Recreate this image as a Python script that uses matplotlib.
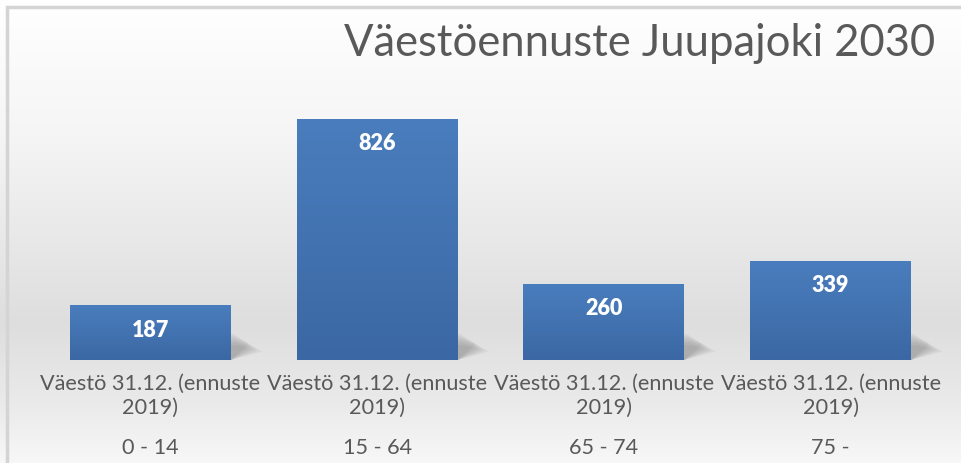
import numpy as np
import matplotlib.pyplot as plt
from matplotlib.patches import Rectangle, Polygon
from matplotlib.colors import LinearSegmentedColormap

title = "Väestöennuste Juupajoki 2030"
series_label = "Väestö 31.12. (ennuste\n2019)"
age_groups = ["0 - 14", "15 - 64", "65 - 74", "75 -"]
values = [187, 826, 260, 339]

W, H = 962, 464
fig = plt.figure(figsize=(W / 100, H / 100), dpi=100)
plt.rcParams['font.family'] = ['Lato', 'DejaVu Sans']

# background gradient (white top -> grey band -> lighter bottom)
bg = fig.add_axes([0, 0, 1, 1], zorder=0)
yy = np.linspace(0, 1, 300)  # 0 = bottom
shade = np.interp(yy, [0, 0.12, 0.3, 0.7, 1.0], [0.97, 0.92, 0.87, 0.96, 1.0])
bg.imshow(np.dstack([shade] * 3).reshape(-1, 1, 3), aspect='auto',
          extent=[0, 1, 0, 1], origin='lower')
bg.set_xlim(0, 1)
bg.set_ylim(0, 1)
bg.axis('off')
bg.add_patch(Rectangle((7 / W, -0.1), 1.2, 1 - 8 / H + 0.1, fill=False,
                       ec='#d4d4d4', lw=2.5))

# plot axes: x from 37 to 944 px, baseline at y=361 px
ax = fig.add_axes([37 / W, (H - 361) / H, (944 - 37) / W, 292 / H], zorder=1)
ax.patch.set_alpha(0)
x = np.arange(len(values))
bw = 0.71

cmap = LinearSegmentedColormap.from_list('bar', ['#3b68a4', '#4a7dbd'])
grad = np.linspace(0, 1, 100).reshape(-1, 1)
for xi, v in zip(x, values):
    # soft shadow towards lower right
    for k in range(6):
        s = 0.03 + k * 0.012
        poly = Polygon([(xi - bw / 2 + 0.15, 0), (xi + bw / 2, 0),
                        (xi + bw / 2 + s + 0.05, 55 - k * 5),
                        (xi + bw / 2 + s * 0.3, 90 - k * 8),
                        (xi + bw / 2, 90 - k * 8)],
                       closed=True, fc='#606060', ec='none', alpha=0.08, zorder=1)
        ax.add_patch(poly)
    r = Rectangle((xi - bw / 2, 0), bw, v, fc='#4279b8', ec='none', zorder=2)
    ax.add_patch(r)
    im = ax.imshow(grad, cmap=cmap, aspect='auto', origin='lower',
                   extent=[xi - bw / 2, xi + bw / 2, 0, v], zorder=3)
    im.set_clip_path(r)
    ax.annotate(str(v), (xi, v), xytext=(0, -17), textcoords='offset points',
                ha='center', va='center', color='white', fontsize=15.5,
                fontweight='heavy', zorder=4)

ax.set_xlim(-0.5, len(values) - 0.5)
ax.set_ylim(0, 1000)
ax.set_xticks(x)
ax.set_xticklabels([series_label] * len(values), fontsize=15.6, color='#595959',
                   linespacing=1.3)
ax.tick_params(axis='x', length=0, pad=9)
ax.set_yticks([])
for sp in ax.spines.values():
    sp.set_visible(False)
for xi, g in zip(x, age_groups):
    ax.text(xi, -87 / 292, g, transform=ax.get_xaxis_transform(), ha='center',
            va='center', fontsize=15.6, color='#595959')

fig.text(640 / W, 1 - 44 / H, title, ha='center', va='center', fontsize=31.4,
         color='#595959')

fig.savefig('out.png', dpi=100)
